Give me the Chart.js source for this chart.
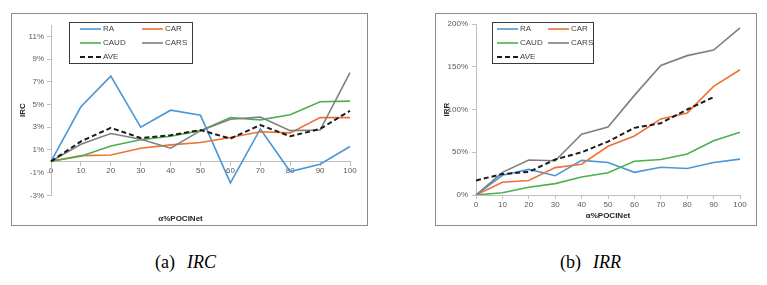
<!DOCTYPE html>
<html>
<head>
<meta charset="utf-8">
<script src="https://cdn.jsdelivr.net/npm/chart.js@4.4.0/dist/chart.umd.min.js"></script>
<style>
  body { margin: 0; background: #fff; width: 767px; height: 285px; position: relative; overflow: hidden; }
  .frame { position: absolute; border: 1px solid #8c8c8c; box-sizing: border-box; }
  canvas { position: absolute; }
  .cap { position: absolute; top: 254px; font-family: 'Liberation Serif', 'Times New Roman', serif; font-size: 18px; line-height: 17px; color: #000; white-space: pre; }
  .cap.it { font-style: italic; }
</style>
</head>
<body>
<div class="frame" style="left:11px; top:13px; width:357px; height:213px;"></div>
<canvas id="chartIRC" width="356" height="212" style="left:11px; top:13px;"></canvas>
<div class="frame" style="left:435px; top:13px; width:322px; height:213px;"></div>
<canvas id="chartIRR" width="321" height="212" style="left:435px; top:13px;"></canvas>

<span class="cap" style="left:155px;">(a)</span><span class="cap it" style="left:187px;">IRC</span>
<span class="cap" style="left:560px;">(b)</span><span class="cap it" style="left:593px;">IRR</span>

<script>
// x categories (α%POCINet)
const xLabels = ['0', '10', '20', '30', '40', '50', '60', '70', '80', '90', '100'];
const seriesNames = ['RA', 'CAR', 'CAUD', 'CARS', 'AVE'];

// (a) IRC, in %
const ircRA   = [0, 4.8, 7.5, 3.0, 4.5, 4.05, -1.9, 2.85, -0.9, -0.25, 1.3];
const ircCAR  = [0, 0.5, 0.55, 1.15, 1.45, 1.65, 2.1, 2.6, 2.5, 3.85, 3.85];
const ircCAUD = [0, 0.45, 1.35, 1.9, 2.2, 2.7, 3.85, 3.65, 4.1, 5.25, 5.3];
const ircCARS = [0, 1.5, 2.45, 1.95, 1.15, 2.7, 3.7, 3.9, 2.7, 2.75, 7.8];
const ircAVE  = [0, 1.75, 2.95, 2.05, 2.3, 2.75, 2.0, 3.2, 2.2, 2.85, 4.45];
const ircTicks = [-3, -1, 1, 3, 5, 7, 9, 11];

// (b) IRR, in %
const irrRA   = [0, 23, 30, 22.5, 40.5, 38, 26.5, 32.5, 31, 38, 42];
const irrCAR  = [0, 15, 17, 32, 36, 57, 69, 89, 96, 127, 146.5];
const irrCAUD = [0, 2.7, 9, 13.3, 21, 26, 39.5, 41.5, 48, 63.5, 73.5];
const irrCARS = [0, 26.5, 41, 40, 71, 79.5, 116.5, 151.5, 163, 169.5, 195.5];
const irrAVE  = [17, 24.5, 27, 41.5, 50, 62.5, 78.5, 84, 100, 114.5, null];
const irrTicks = [0, 50, 100, 150, 200];

const seriesColors = ['#4a97d6', '#ee7232', '#4caf50', '#7f7f7f', '#1c1c1c'];
const FONT = "'Liberation Sans', Arial, sans-serif";

function makeDatasets(rows) {
    return rows.map((data, i) => ({
        label: seriesNames[i],
        data: data,
        borderColor: seriesColors[i],
        backgroundColor: seriesColors[i],
        borderWidth: i === 4 ? 2 : 1.6,
        borderDash: i === 4 ? [5, 3] : [],
        pointRadius: 0,
        tension: 0,
        fill: false,
        order: 4 - i
    }));
}

// legend with a frame, two columns like the original
const boxLegend = {
    id: 'boxLegend',
    afterDraw(chart, args, opts) {
        const ctx = chart.ctx;
        ctx.save();
        ctx.strokeStyle = '#3a3a3a';
        ctx.lineWidth = 1;
        ctx.strokeRect(opts.x + 0.5, opts.y + 0.5, opts.w, opts.h);
        ctx.font = '8px ' + FONT;
        ctx.textBaseline = 'middle';
        chart.data.datasets.forEach((ds, i) => {
            const lx = opts.cols[i % 2];
            const ly = opts.y + 7 + Math.floor(i / 2) * 14;
            ctx.beginPath();
            ctx.strokeStyle = ds.borderColor;
            ctx.lineWidth = ds.borderWidth;
            ctx.setLineDash(ds.borderDash);
            ctx.moveTo(lx, ly);
            ctx.lineTo(lx + 21, ly);
            ctx.stroke();
            ctx.setLineDash([]);
            ctx.fillStyle = '#404040';
            ctx.fillText(ds.label, lx + 23, ly);
        });
        ctx.restore();
    }
};

const axisGrid = { display: true, drawOnChartArea: false, drawTicks: true, tickLength: 4, color: '#bfbfbf' };
const tickFont = { family: FONT, size: 8 };

// (a) IRC
new Chart(document.getElementById('chartIRC'), {
    type: 'line',
    data: { labels: xLabels, datasets: makeDatasets([ircRA, ircCAR, ircCAUD, ircCARS, ircAVE]) },
    options: {
        responsive: false,
        animation: false,
        layout: { padding: { top: 12, right: 17, left: 0, bottom: 0 } },
        scales: {
            x: {
                type: 'category',
                offset: false,
                position: { y: 0 },
                grid: axisGrid,
                border: { color: '#bfbfbf' },
                ticks: { font: tickFont, color: '#595959', padding: 1, maxRotation: 0, autoSkip: false }
            },
            y: {
                min: -3,
                max: 12,
                afterBuildTicks: s => { s.ticks = ircTicks.map(v => ({ value: v })); },
                afterFit: s => { s.width = 40; },
                grid: axisGrid,
                border: { color: '#bfbfbf' },
                ticks: { font: tickFont, color: '#595959', padding: 3, callback: v => v + '%' },
                title: { display: true, text: 'IRC', color: '#262626', font: { family: FONT, size: 8, weight: 'bold' }, padding: { top: 7, bottom: 0 } }
            }
        },
        plugins: {
            legend: { display: false },
            tooltip: { enabled: false },
            title: {
                display: true, position: 'bottom', text: 'α%POCINet', color: '#262626',
                font: { family: FONT, size: 8, weight: 'bold' }, padding: { top: 19, bottom: 1 }
            },
            boxLegend: { x: 58, y: 9, w: 123, h: 41, cols: [69, 131] }
        }
    },
    plugins: [boxLegend]
});

// (b) IRR
new Chart(document.getElementById('chartIRR'), {
    type: 'line',
    data: { labels: xLabels, datasets: makeDatasets([irrRA, irrCAR, irrCAUD, irrCARS, irrAVE]) },
    options: {
        responsive: false,
        animation: false,
        layout: { padding: { top: 11, right: 16, left: 0, bottom: 0 } },
        scales: {
            x: {
                type: 'category',
                offset: false,
                afterFit: s => { s.height = 30; },
                grid: axisGrid,
                border: { color: '#bfbfbf' },
                ticks: { font: tickFont, color: '#595959', padding: 1, maxRotation: 0, autoSkip: false },
                title: { display: true, text: 'α%POCINet', color: '#262626', font: { family: FONT, size: 8, weight: 'bold' }, padding: { top: 0, bottom: 4 } }
            },
            y: {
                min: 0,
                max: 200,
                afterBuildTicks: s => { s.ticks = irrTicks.map(v => ({ value: v })); },
                afterFit: s => { s.width = 41; },
                grid: axisGrid,
                border: { color: '#bfbfbf' },
                ticks: { font: tickFont, color: '#595959', padding: 4, callback: v => v + '%' },
                title: { display: true, text: 'IRR', color: '#262626', font: { family: FONT, size: 8, weight: 'bold' }, padding: { top: 7, bottom: 0 } }
            }
        },
        plugins: {
            legend: { display: false },
            tooltip: { enabled: false },
            boxLegend: { x: 57, y: 9, w: 101, h: 41, cols: [62, 113] }
        }
    },
    plugins: [boxLegend]
});
</script>
</body>
</html>
